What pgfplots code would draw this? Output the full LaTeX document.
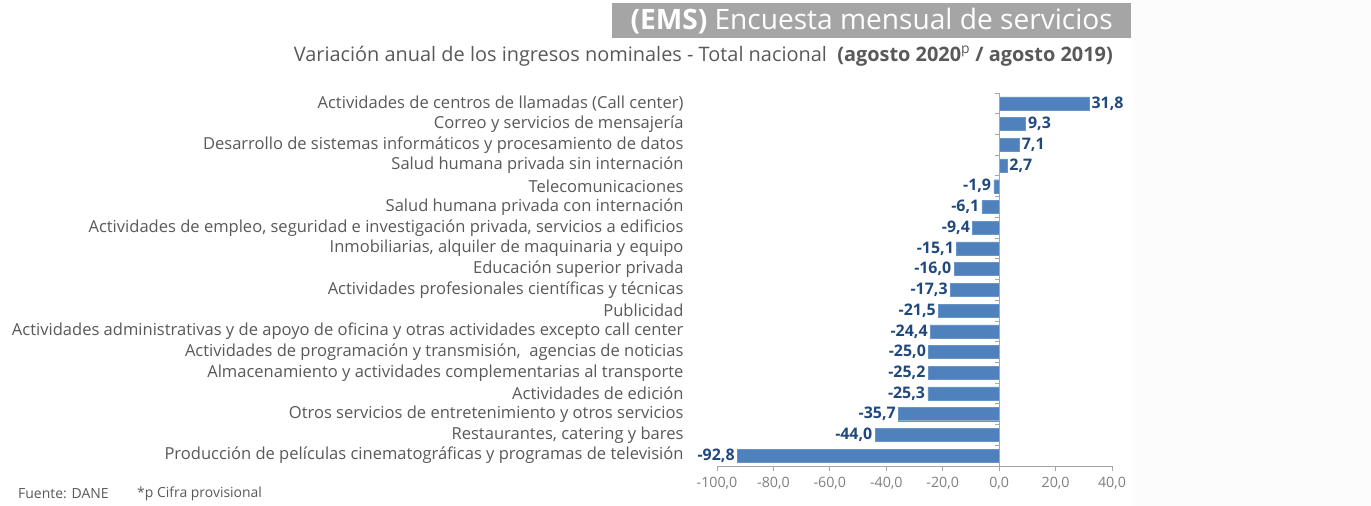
\documentclass[border=0pt]{standalone}
\usepackage{pgfplots}
\pgfplotsset{compat=1.18}
\usepackage{fontspec}
\setmainfont{Open Sans}
\definecolor{barblue}{HTML}{4F81BD}
\definecolor{valblue}{HTML}{1F497D}
\definecolor{labgray}{HTML}{595959}
\definecolor{tickgray}{HTML}{7F7F7F}
\definecolor{axgray}{HTML}{A6A6A6}
\definecolor{titlegray}{HTML}{A5A5A5}
\begin{document}
\begin{tikzpicture}
\useasboundingbox (0,0) rectangle (1371bp,506bp);
\fill[white] (0,0) rectangle (1371bp,506bp);
\fill[black!1] (1132bp,0) rectangle (1371bp,506bp);
% title
\fill[titlegray] (612bp,468bp) rectangle (1131bp,503bp);
\node[anchor=east, text=white, font=\fontsize{28.2}{31}\selectfont, inner sep=0pt] at (1113bp,485bp) {\textbf{(EMS)} Encuesta mensual de servicios};
\node[anchor=east, text=labgray, font=\fontsize{20}{22}\selectfont, inner sep=0pt] at (1113bp,450bp) {Variación anual de los ingresos nominales - Total nacional\ \ \textbf{(agosto 2020\textsuperscript{\mdseries p} / agosto 2019)}};
% footer
\node[anchor=west, text=labgray, font=\fontsize{14}{15}\selectfont, inner sep=0pt] at (18bp,12bp) {Fuente: DANE};
\node[anchor=west, text=labgray, font=\fontsize{14}{15}\selectfont, inner sep=0pt] at (137bp,12bp) {*p Cifra provisional};
\begin{axis}[
  at={(717bp,40bp)}, anchor=south west,
  width=395bp, height=373bp, scale only axis,
  xmin=-100, xmax=40, ymin=-0.5, ymax=17.5,
  axis x line*=bottom, axis y line*=left,
  x axis line style={draw=axgray, line width=0.8pt, -},
  y axis line style={draw=none},
  xtick={-100,-80,...,40},
  x tick style={draw=axgray, line width=0.8pt},
  tick align=outside, major tick length=5bp,
  xticklabel style={text=tickgray, font=\fontsize{14.3}{16}\selectfont, yshift=-3bp},
  /pgf/number format/.cd, fixed, fixed zerofill, precision=1, use comma, 1000 sep={}, assume math mode=true,
  /pgfplots/.cd,
  ytick={0,...,17},
  ytick style={draw=none},
  yticklabels={
    Producción de películas cinematográficas y programas de televisión,
    {Restaurantes, catering y bares},
    Otros servicios de entretenimiento y otros servicios,
    Actividades de edición,
    Almacenamiento y actividades complementarias al transporte,
    {Actividades de programación y transmisión,\ \ agencias de noticias},
    Actividades administrativas y de apoyo de oficina y otras actividades excepto call center,
    Publicidad,
    Actividades profesionales científicas y técnicas,
    Educación superior privada,
    {Inmobiliarias, alquiler de maquinaria y equipo},
    {Actividades de empleo, seguridad e investigación privada, servicios a edificios},
    Salud humana privada con internación,
    Telecomunicaciones,
    Salud humana privada sin internación,
    Desarrollo de sistemas informáticos y procesamiento de datos,
    Correo y servicios de mensajería,
    Actividades de centros de llamadas (Call center)},
  yticklabel style={anchor=east, text=labgray, font=\fontsize{16.6}{18}\selectfont, xshift=-25bp},
  clip=false,
]
\addplot[xbar, bar width=0.63, fill=barblue, draw=barblue!85!white, line width=0.4pt,
  nodes near coords, point meta=x, nodes near coords align={horizontal},
  every node near coord/.append style={text=valblue, font=\bfseries\fontsize{16}{18}\selectfont, inner sep=2.5bp,
    /pgf/number format/.cd, fixed, fixed zerofill, precision=1, use comma, assume math mode=true}]
coordinates {
(-92.8,0) (-44.0,1) (-35.7,2) (-25.3,3) (-25.2,4) (-25.0,5) (-24.4,6) (-21.5,7) (-17.3,8)
(-16.0,9) (-15.1,10) (-9.4,11) (-6.1,12) (-1.9,13) (2.7,14) (7.1,15) (9.3,16) (31.8,17)
};
\draw[axgray, line width=0.8pt] (axis cs:0,-0.5) -- (axis cs:0,17.5);
\pgfplotsinvokeforeach{0,...,18}{
  \draw[axgray, line width=0.8pt] (axis cs:0,#1-0.5) -- ([xshift=-4bp]axis cs:0,#1-0.5);
}
\end{axis}
\end{tikzpicture}
\end{document}
